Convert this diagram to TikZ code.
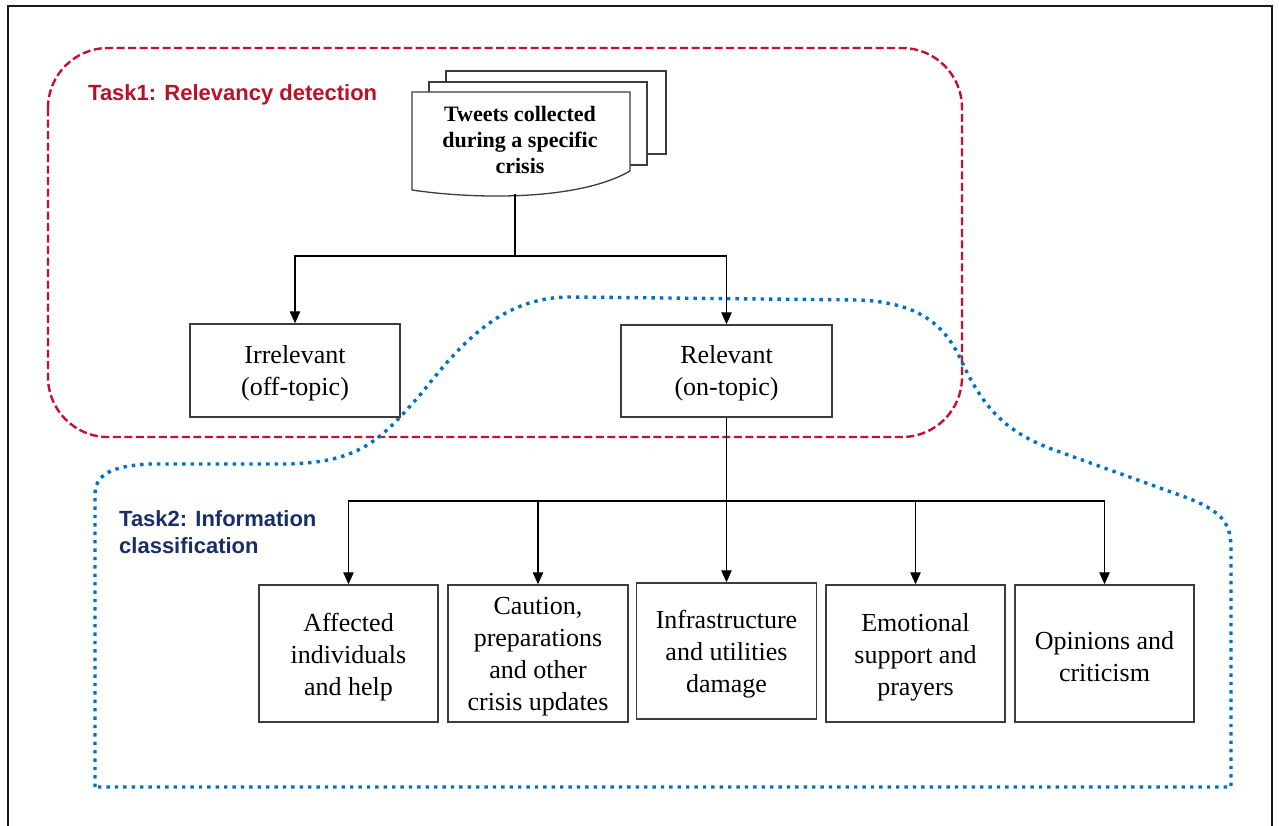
\documentclass[tikz,border=0pt]{standalone}
\usepackage{fontspec}
\setmainfont{Liberation Serif}
\newfontfamily\labelsans{Liberation Sans}
\usetikzlibrary{arrows.meta}

\definecolor{taskred}{RGB}{200,16,46}
\definecolor{taskredtext}{RGB}{185,18,40}
\definecolor{taskblue}{RGB}{0,114,198}
\definecolor{tasknavy}{RGB}{25,45,105}
\definecolor{boxline}{RGB}{60,60,60}

\tikzset{
  frameline/.style={line width=2pt, draw=black!90},
  taskone/.style={draw=taskred, line width=2.4pt, dash pattern=on 8pt off 3.5pt},
  tasktwo/.style={draw=taskblue, line width=3.4pt, dash pattern=on 3.4pt off 5pt},
  page/.style={draw=boxline, line width=1.3pt, fill=white},
  catbox/.style={draw=boxline, line width=1.5pt, inner sep=0pt},
  cattext/.style={align=center, inner sep=0pt, font=\fontsize{26}{32}\selectfont},
  conn/.style={draw=black, line width=1.2pt},
  arr/.style={conn, -{Triangle[length=12pt,width=10.5pt]}},
  tasklabel/.style={inner sep=0pt, align=left, font=\labelsans\bfseries\fontsize{22}{27}\selectfont}
}

\begin{document}
\begin{tikzpicture}[x=1pt,y=-1pt]
\useasboundingbox (0,0) rectangle (1279,825);

% outer frame
\draw[frameline] (7.5,840) -- (7.5,5.5) -- (1272,5.5) -- (1272,840);

% task 1 region
\draw[taskone] (48,48) [rounded corners=60pt] rectangle (962,437);
\node[tasklabel, text=taskredtext, anchor=base west] (t1label) at (88,100)
  {Task1: Relevancy detection};

% task 2 region
\draw[tasktwo] (95,787) -- (95,495)
  .. controls (95,475) and (110,466) .. (150,464) -- (280,464)
  .. controls (360,464) and (380,440) .. (420,395)
  .. controls (460,345) and (500,297) .. (570,297)
  -- (860,300)
  .. controls (920,303) and (945,325) .. (962,362)
  .. controls (985,412) and (1010,435) .. (1060,452)
  -- (1185,497)
  .. controls (1225,512) and (1231,525) .. (1231,550)
  -- (1231,787) -- cycle;
\node[tasklabel, text=tasknavy, anchor=north west] (t2label) at (119,510)
  {Task2: Information\\classification};

% stack of tweet pages
\draw[page] (446,71) rectangle (666,154);
\draw[page] (429,82) rectangle (647,165);
\draw[page] (412,190) -- (412,92) -- (630,92) -- (630,171)
  .. controls (580,200) and (480,200) .. (412,190) -- cycle;
\node[align=center, inner sep=0pt, font=\bfseries\fontsize{22}{26}\selectfont]
  (tweets) at (520,140) {Tweets collected\\during a specific\\crisis};
\coordinate (docbot) at (515,194);

% relevancy boxes
\node[catbox, minimum width=210pt, minimum height=93pt] (irr) at (295,370.5) {};
\node[cattext] (irrtext) at ([yshift=-2.5pt]irr.center) {Irrelevant\\(off-topic)};
\node[catbox, minimum width=211pt, minimum height=92pt] (rel) at (726.5,371) {};
\node[cattext] (reltext) at ([yshift=-2.5pt]rel.center) {Relevant\\(on-topic)};

% information categories
\node[catbox, minimum width=179pt, minimum height=137pt] (c1) at (348.5,653.5) {};
\node[cattext] (c1text) at ([yshift=-3.5pt]c1.center) {Affected\\individuals\\and help};
\node[catbox, minimum width=180pt, minimum height=137pt] (c2) at (538,653.5) {};
\node[cattext] (c2text) at ([yshift=-3.5pt]c2.center) {Caution,\\preparations\\and other\\crisis updates};
\node[catbox, minimum width=180pt, minimum height=136pt] (c3) at (726.5,651) {};
\node[cattext] (c3text) at ([yshift=-3.5pt]c3.center) {Infrastructure\\and utilities\\damage};
\node[catbox, minimum width=179pt, minimum height=137pt] (c4) at (915.5,653.5) {};
\node[cattext] (c4text) at ([yshift=-3.5pt]c4.center) {Emotional\\support and\\prayers};
\node[catbox, minimum width=179pt, minimum height=137pt] (c5) at (1104.5,653.5) {};
\node[cattext] (c5text) at ([yshift=-3.5pt]c5.center) {Opinions and\\criticism};

% connectors
\coordinate (split1) at (515,256);
\draw[conn] (docbot) -- (split1);
\draw[arr] (split1) -| (irr.north);
\draw[arr] (split1) -| (rel.north);

\coordinate (split2) at (726.5,501);
\draw[conn] (rel.south) -- (split2);
\draw[arr] (split2) -| (c1.north);
\draw[arr] (split2) -| (c2.north);
\draw[arr] (split2) -- (c3.north);
\draw[arr] (split2) -| (c4.north);
\draw[arr] (split2) -| (c5.north);
\end{tikzpicture}
\end{document}
